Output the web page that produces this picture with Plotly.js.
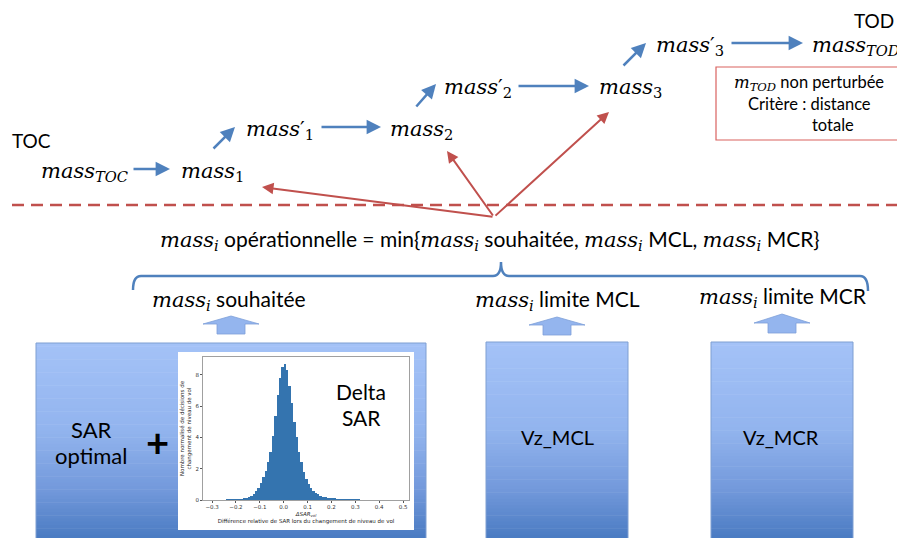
<!DOCTYPE html>
<html><head><meta charset="utf-8">
<script src="https://cdn.plot.ly/plotly-3.0.1.min.js"></script>
<style>html,body{margin:0;padding:0;background:#fff}#chart{width:897px;height:538px}</style>
</head><body><div id="chart"></div>
<script>
// ---------- Data (inset histogram: normalised density of ΔSAR_vol) ----------
const binCenters = [-0.335,-0.325,-0.315,-0.305,-0.295,-0.285,-0.275,-0.265,-0.255,-0.245,
  -0.235,-0.225,-0.215,-0.205,-0.195,-0.185,-0.175,-0.165,-0.155,-0.145,
  -0.135,-0.125,-0.115,-0.105,-0.095,-0.085,-0.075,-0.065,-0.055,-0.045,
  -0.035,-0.025,-0.015,-0.005,0.005,0.015,0.025,0.035,0.045,0.055,
  0.065,0.075,0.085,0.095,0.105,0.115,0.125,0.135,0.145,0.155,
  0.165,0.175,0.185,0.195,0.205,0.215,0.225,0.235,0.245,0.255,
  0.265,0.275,0.285,0.295,0.305,0.315,0.325,0.335,0.345,0.355,
  0.365,0.375,0.385,0.395,0.405,0.415,0.425,0.435,0.445,0.455,
  0.465,0.475,0.485,0.495,0.505,0.515];
const density = [0.01,0.02,0.02,0.02,0.02,0.02,0.02,0.03,0.03,0.03,
  0.04,0.04,0.05,0.05,0.06,0.07,0.09,0.11,0.14,0.19,
  0.26,0.38,0.55,0.80,1.10,1.45,1.85,2.40,3.10,4.10,
  5.40,6.70,7.80,8.50,8.70,8.30,7.30,6.20,5.00,4.00,
  3.10,2.40,1.80,1.35,1.00,0.78,0.60,0.46,0.36,0.28,
  0.22,0.18,0.15,0.13,0.11,0.10,0.09,0.08,0.07,0.06,
  0.06,0.05,0.05,0.04,0.04,0.04,0.03,0.03,0.03,0.03,
  0.02,0.02,0.02,0.02,0.02,0.02,0.02,0.01,0.01,0.01,
  0.01,0.01,0.01,0.01,0.01,0.01];
const xTickVals = [-0.3,-0.2,-0.1,0,0.1,0.2,0.3,0.4,0.5];
const xTickText = ['−0.3','−0.2','−0.1','0.0','0.1','0.2','0.3','0.4','0.5'];
const yTickVals = [0,2,4,6,8];
const yTickText = ['0','2','4','6','8'];

// ---------- Texts ----------
const SERIF = 'DejaVu Serif';
const SANS = 'Lato';
const m = (sub, prime, italicSub) =>
  '<i>mass</i>' + (prime ? '′' : '') + '<sub>' + (italicSub ? '<i>' + sub + '</i>' : sub) + '</sub>';
const ms = (sub) => '<span style="font-family:' + SERIF + '"><i>mass</i><sub><i>' + sub + '</i></sub></span>';
const flowTexts = [m('TOC',false,true), m('1'), m('1',true), m('2'), m('2',true), m('3'), m('3',true), m('TOD',false,true)];
const formulaText = ms('i') + ' opérationnelle = min{' + ms('i') + ' souhaitée, ' + ms('i') + ' MCL, ' + ms('i') + ' MCR}';
const limitTexts = [ms('i') + ' souhaitée', ms('i') + ' limite MCL', ms('i') + ' limite MCR'];
const todBoxTexts = ['<span style="font-family:' + SERIF + '"><i>m</i><sub><i>TOD</i></sub></span> non perturbée', 'Critère : distance', 'totale'];
const histXTitle = '<i>ΔSAR</i><sub><i>vol</i></sub><br>Différence relative de SAR lors du changement de niveau de vol';
const histYTitle = 'Nombre normalisé de décisions de<br>changement de niveau de vol';

// ---------- Layout helpers ----------
const shapes = [];
const annotations = [];
const BLUE = '#4f81bd', RED = '#c0504d';

function hex(c){return [parseInt(c.slice(1,3),16),parseInt(c.slice(3,5),16),parseInt(c.slice(5,7),16)];}
const gradStops = [[0,'#a4c2f7'],[0.45,'#92b4ee'],[0.75,'#7399db'],[1,'#4a7bc2']];
function gradColor(t){
  for(let i=1;i<gradStops.length;i++){
    if(t<=gradStops[i][0]){
      const a=gradStops[i-1], b=gradStops[i];
      const u=(t-a[0])/(b[0]-a[0]);
      const ca=hex(a[1]), cb=hex(b[1]);
      return 'rgb('+ca.map((v,k)=>Math.round(v+(cb[k]-v)*u)).join(',')+')';
    }
  }
  return gradStops[gradStops.length-1][1];
}
function gradBox(x0,y0,x1,y1){
  const n=60;
  for(let i=0;i<n;i++){
    shapes.push({type:'rect',xref:'x',yref:'y',layer:'below',x0:x0,x1:x1,
      y0:y0+(y1-y0)*i/n, y1:y0+(y1-y0)*(i+1)/n+0.6,
      fillcolor:gradColor((i+0.5)/n), line:{width:0}});
  }
  shapes.push({type:'rect',xref:'x',yref:'y',layer:'below',x0:x0,x1:x1,y0:y0,y1:y1+5,
    fillcolor:'rgba(0,0,0,0)',line:{color:'#7f9fd2',width:1}});
}
function blockArrow(cx, tip, headBase, bottom){
  const hw=28, sw=14;
  const p='M'+cx+','+tip+' L'+(cx+hw)+','+headBase+' L'+(cx+sw)+','+headBase+' L'+(cx+sw)+','+bottom+
    ' L'+(cx-sw)+','+bottom+' L'+(cx-sw)+','+headBase+' L'+(cx-hw)+','+headBase+' Z';
  shapes.push({type:'path',xref:'x',yref:'y',layer:'below',path:p,fillcolor:'#94b5ee',line:{color:'#7d9fd8',width:0.8}});
}
function arrow(x0,y0,x1,y1,color,w){
  annotations.push({xref:'x',yref:'y',axref:'x',ayref:'y',x:x1,y:y1,ax:x0,ay:y0,text:'',
    showarrow:true,arrowhead:2,arrowsize:1.15,arrowwidth:w,arrowcolor:color,standoff:0,startstandoff:0});
}
function label(text,x,y,size,family,xanchor,extra){
  annotations.push(Object.assign({xref:'x',yref:'y',x:x,y:y,text:text,showarrow:false,
    xanchor:xanchor||'center',yanchor:'middle',font:{family:family,size:size,color:'#000'}},extra||{}));
}

// Boxes with gradient
gradBox(36,343,426,538);
gradBox(486,342,628,538);
gradBox(711,342,853,538);
// white inset behind histogram
shapes.push({type:'rect',xref:'x',yref:'y',layer:'below',x0:178,x1:414,y0:352,y1:530,fillcolor:'#ffffff',line:{width:0}});

// block arrows
blockArrow(231,316,324,334);
blockArrow(557,317,325,335);
blockArrow(782,314,323,333);

// Brace
shapes.push({type:'path',xref:'x',yref:'y',path:'M133,290 Q133,276 141,276 L493,276 Q501,276 501,262 Q501,276 509,276 L860,276 Q868,276 868,291',
  line:{color:BLUE,width:2.5}});
// dashed separator
shapes.push({type:'line',xref:'x',yref:'y',x0:12,x1:897,y0:205,y1:205,line:{color:RED,width:2.5,dash:'12px,7px'}});
// red box
shapes.push({type:'rect',xref:'x',yref:'y',x0:716,x1:900,y0:67,y1:140,line:{color:'#d9625f',width:1.2},fillcolor:'rgba(0,0,0,0)'});

// Flow labels
const flowPos = [[39,170],[179,170],[244,128],[388,128],[442,86],[597,86],[654,44],[810,44]];
flowTexts.forEach((t,i)=>label(t,flowPos[i][0],flowPos[i][1]+2,21,SERIF,'left'));
label('TOC',31,140,19,SANS);
label('TOD',874,20,19,SANS);

// Blue flow arrows
arrow(132,169,170,169,BLUE,2.5);
arrow(212,150,235,127,BLUE,2.5);
arrow(320,127,381,127,BLUE,2.5);
arrow(415,108,436,84,BLUE,2.5);
arrow(517,86,589,86,BLUE,2.5);
arrow(622,67,646,43,BLUE,2.5);
arrow(730,43,803,43,BLUE,2.5);

// Red arrows
arrow(494,217,262,187,RED,2);
arrow(494,217,447,151,RED,2);
arrow(494,217,609,112,RED,2);

// TOD box text
label(todBoxTexts[0],809,83,16.5,SANS);
label(todBoxTexts[1],809,104,16.5,SANS);
label(todBoxTexts[2],833,125,16.5,SANS);

// Formula
label(formulaText,158,240,21,SANS,'left');
// limit labels
label(limitTexts[0],150,300,21,SANS,'left');
label(limitTexts[1],473,300,21,SANS,'left');
label(limitTexts[2],697,297,21,SANS,'left');

// Box texts
label('SAR',91,429,22,SANS);
label('optimal',91,455,22,SANS);
label('<b>+</b>',157,442,40,SANS);
label('Delta',361,391,21,SANS);
label('SAR',361,417,21,SANS);
label('Vz_MCL',557,437,20,SANS);
label('Vz_MCR',781,437,20,SANS);

const traces = [
  {type:'scatter',x:[],y:[],xaxis:'x',yaxis:'y',showlegend:false,hoverinfo:'skip'},
  {type:'bar',x:binCenters,y:density,xaxis:'x2',yaxis:'y2',width:0.01,
   marker:{color:'#3474af',line:{width:0}},showlegend:false}
];

const tickFont = {family:'DejaVu Sans',size:5.5,color:'#333'};
const layout = {
  width:897,height:538,margin:{l:0,r:0,t:0,b:0},
  paper_bgcolor:'#ffffff',plot_bgcolor:'#ffffff',showlegend:false,
  xaxis:{range:[0,897],domain:[0,1],visible:false,fixedrange:true},
  yaxis:{range:[538,0],domain:[0,1],visible:false,fixedrange:true},
  xaxis2:{domain:[203/897,409/897],anchor:'y2',range:[-0.338,0.525],
    tickvals:xTickVals,ticktext:xTickText,tickfont:tickFont,ticks:'outside',ticklen:2,tickcolor:'#555',
    showline:true,mirror:true,linecolor:'#888',linewidth:0.8,showgrid:false,zeroline:false,
    title:{text:histXTitle,font:{family:'DejaVu Sans',size:5.5,color:'#222'},standoff:2}},
  yaxis2:{domain:[1-500/538,1-357/538],anchor:'x2',range:[0,9.15],
    tickvals:yTickVals,ticktext:yTickText,tickfont:tickFont,ticks:'outside',ticklen:2,tickcolor:'#555',
    showline:true,mirror:true,linecolor:'#888',linewidth:0.8,showgrid:false,zeroline:false,
    title:{text:histYTitle,font:{family:'DejaVu Sans',size:5.5,color:'#222'},standoff:3}},
  bargap:0,
  shapes:shapes,
  annotations:annotations
};
Plotly.newPlot('chart',traces,layout,{staticPlot:true,displayModeBar:false});
</script></body></html>
